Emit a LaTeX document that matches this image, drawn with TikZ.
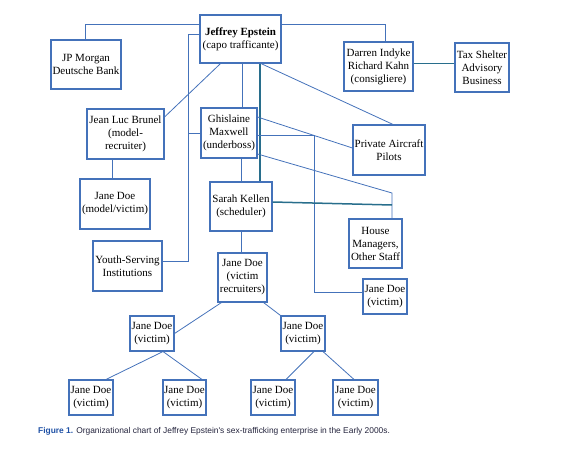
\documentclass[tikz,border=0pt]{standalone}
\usepackage{xcolor}
\usepackage{fontspec}
\setmainfont{Liberation Serif}
\newfontfamily\capfont{Liberation Sans}
\usepackage{tikz}
\definecolor{chartblue}{RGB}{68,114,186}
\definecolor{chartteal}{RGB}{40,110,140}
\definecolor{capblue}{RGB}{30,80,165}
\definecolor{capink}{RGB}{35,35,60}

\begin{document}
\begin{tikzpicture}[x=1pt,y=-1pt,
    box/.style={draw=chartblue, line width=1.1pt, inner sep=0pt, align=center,
                font=\fontsize{11}{13}\selectfont},
    link/.style={chartblue, line width=0.8pt},
    tealink/.style={chartteal, line width=1.5pt}]
      \useasboundingbox (0,0) rectangle (568,455);

      % Top level
      \node[box, minimum width=81pt, minimum height=48pt] (epstein) at (240.5,39) {\textbf{Jeffrey Epstein}\\(capo trafficante)};
      \node[box, minimum width=70pt, minimum height=49pt] (jpm) at (86,64.5) {JP Morgan\\Deutsche Bank};
      \node[box, minimum width=69pt, minimum height=49pt] (darren) at (378.5,66.5) {Darren Indyke\\Richard Kahn\\(consigliere)};
      \node[box, minimum width=54pt, minimum height=49pt] (tax) at (482,67.5) {Tax Shelter\\Advisory\\Business};

      % Second level
      \node[box, minimum width=77pt, minimum height=50pt] (brunel) at (125.5,134) {Jean Luc Brunel\\(model-\\recruiter)};
      \node[box, minimum width=56pt, minimum height=50pt] (ghislaine) at (229,133) {Ghislaine\\Maxwell\\(underboss)};
      \node[box, minimum width=72pt, minimum height=50pt] (aircraft) at (389,150) {Private Aircraft\\Pilots};

      % Third level
      \node[box, minimum width=70pt, minimum height=50pt] (modelvictim) at (115,204) {Jane Doe\\(model/victim)};
      \node[box, minimum width=62pt, minimum height=49pt] (sarah) at (241,206.5) {Sarah Kellen\\(scheduler)};
      \node[box, minimum width=53pt, minimum height=49pt] (house) at (375.5,243.5) {House\\Managers,\\Other Staff};
      \node[box, minimum width=69pt, minimum height=50pt] (youth) at (127.5,266) {Youth-Serving\\Institutions};
      \node[box, minimum width=49pt, minimum height=49pt] (recruiters) at (242.5,277.5) {Jane Doe\\(victim\\recruiters)};
      \node[box, minimum width=44pt, minimum height=35pt] (jdright) at (385,296.5) {Jane Doe\\(victim)};

      % Victims
      \node[box, minimum width=44pt, minimum height=35pt] (jdleft) at (152,333.5) {Jane Doe\\(victim)};
      \node[box, minimum width=44pt, minimum height=35pt] (jdmid) at (303,333.5) {Jane Doe\\(victim)};
      \node[box, minimum width=44pt, minimum height=35pt] (jdA) at (91,397.5) {Jane Doe\\(victim)};
      \node[box, minimum width=43pt, minimum height=35pt] (jdB) at (184.5,397.5) {Jane Doe\\(victim)};
      \node[box, minimum width=44pt, minimum height=35pt] (jdC) at (273,397.5) {Jane Doe\\(victim)};
      \node[box, minimum width=45pt, minimum height=35pt] (jdD) at (355.5,397.5) {Jane Doe\\(victim)};

      % Bends
      \coordinate (spine) at (188,34);
      \coordinate (vbend) at (314,135);
      \coordinate (hbend) at (392,193);

      % Links from the top
      \draw[link] ([yshift=15pt]epstein.west) -| ([xshift=-1pt]jpm.north);
      \draw[link] ([yshift=15pt]epstein.east) -| ([xshift=6.5pt]darren.north);
      \draw[link] (epstein.west |- spine) -- (spine) |- ([yshift=5pt]youth.east);
      \draw[link] (spine |- ghislaine.west) -- (ghislaine.west);
      \draw[link] ([xshift=-20pt]epstein.south) -- ([yshift=17pt]brunel.east);
      \draw[link] ([xshift=1.5pt]epstein.south) -- ([xshift=1.5pt]epstein.south |- ghislaine.north);
      \draw[link] ([xshift=20.5pt]epstein.south) -- ([xshift=4pt]aircraft.north);
      \draw[tealink] ([xshift=19.5pt]epstein.south) -- ([xshift=19.5pt]epstein.south |- sarah.north);
      \draw[tealink] ([yshift=3pt]darren.east) -- ([yshift=3pt]darren.east -| tax.west);
      \draw[link] ([xshift=-3pt]modelvictim.north |- brunel.south) -- ([xshift=-3pt]modelvictim.north);

      % Links from Maxwell
      \draw[link] ([yshift=16pt]ghislaine.east) -- ([yshift=2pt]aircraft.west);
      \draw[link] (ghislaine.east |- vbend) -- (vbend) |- ([yshift=4.5pt]jdright.west);
      \draw[link] ([yshift=-21pt]ghislaine.east) -- (hbend) -- (hbend |- house.north);
      \draw[link] (sarah.north |- ghislaine.south) -- (sarah.north);
      \draw[tealink] ([yshift=4.5pt]sarah.east) -- ([yshift=-12pt]hbend);
      \draw[link] (sarah.south) -- (sarah.south |- recruiters.north);

      % Recruiting chain
      \draw[link] ([xshift=4pt]recruiters.south west) -- (jdleft.east);
      \draw[link] ([xshift=-4pt]recruiters.south east) -- (jdmid.north west);
      \draw[link] ([xshift=11pt]jdleft.south) -- ([xshift=15pt]jdA.north);
      \draw[link] ([xshift=11pt]jdleft.south) -- ([xshift=17.5pt]jdB.north);
      \draw[link] ([xshift=11pt]jdmid.south) -- ([xshift=13pt]jdC.north);
      \draw[link] ([xshift=20pt]jdmid.south) -- ([xshift=-1.5pt]jdD.north);

      % Caption
      \node[anchor=west, inner sep=0pt, font=\capfont\fontsize{8.4}{10}\selectfont, text=capink] (caption) at (38,431)
        {\textcolor{capblue}{\textbf{Figure 1.}} Organizational chart of Jeffrey Epstein's sex-trafficking enterprise in the Early 2000s.};
\end{tikzpicture}
\end{document}
